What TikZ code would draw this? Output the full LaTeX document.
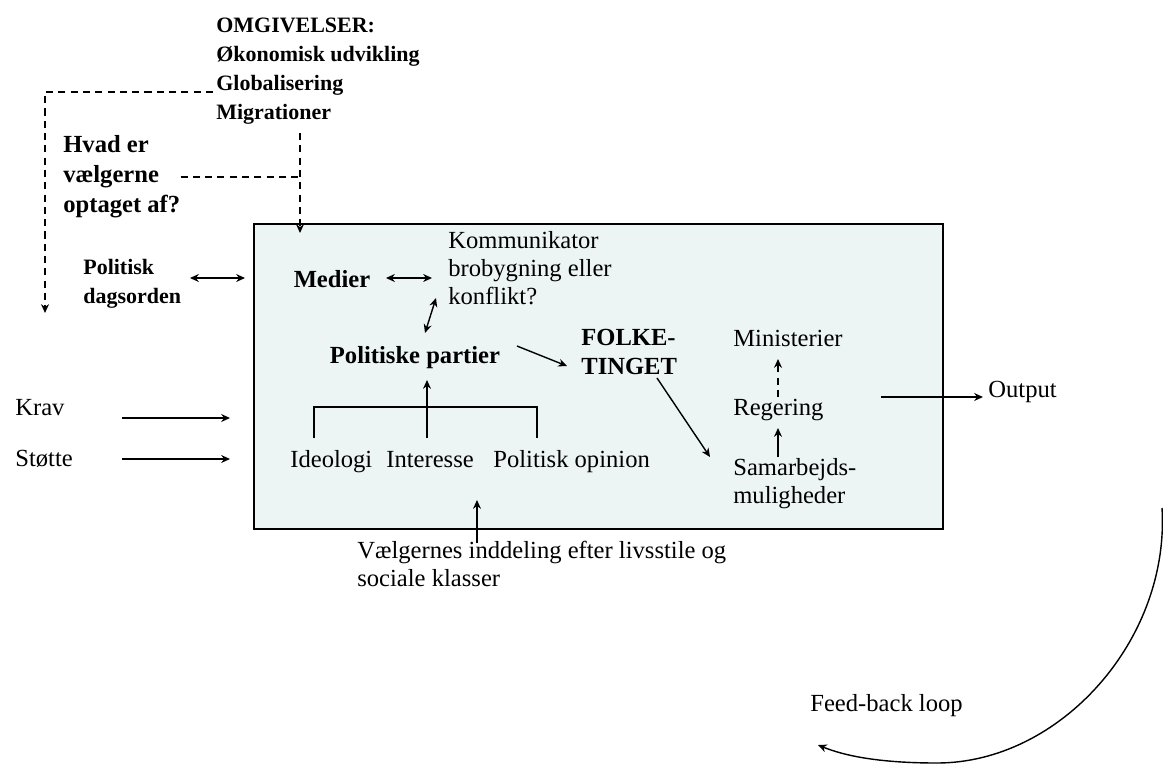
\documentclass[tikz,border=0pt]{standalone}
\usepackage{fontspec}
\setmainfont{Liberation Serif}
\usetikzlibrary{arrows.meta}
\definecolor{boxfill}{HTML}{EDF4F4}

\begin{document}
\begin{tikzpicture}[x=0.02cm,y=-0.02cm,
>={Stealth[length=5pt,width=4.5pt]},
txt/.style = {inner sep=0pt,align=left,font=\rmfamily\fontsize{14}{16}\selectfont},
bld/.style = {inner sep=0pt,align=left,font=\rmfamily\fontsize{12.5}{16.5}\selectfont\bfseries},
big/.style = {inner sep=0pt,align=left,font=\rmfamily\fontsize{14}{16.5}\selectfont\bfseries},
arr/.style = {draw,->,thick},
dbl/.style = {draw,<->,thick},
dsh/.style = {draw,thick,dash pattern=on 4pt off 3pt}
]
  \useasboundingbox (0,0) rectangle (1163,765);
  \draw[thick,fill=boxfill] (254,224) rectangle (943,529);

  \node[bld,anchor=west] (omg) at (216,71) {OMGIVELSER:\\Økonomisk udvikling\\Globalisering\\Migrationer};
  \node[bld,anchor=west,font=\rmfamily\fontsize{14}{17}\selectfont\bfseries] (hvad) at (63,177) {Hvad er\\vælgerne\\optaget af?};
  \node[bld,anchor=west] (dag) at (83,284) {Politisk\\dagsorden};
  \node[big] (medier) at (332,279) {Medier};
  \node[txt,anchor=west] (komm) at (448,268) {Kommunikator\\brobygning eller\\konflikt?};
  \node[big] (partier) at (415,358) {Politiske partier};
  \node[big,anchor=west] (ft) at (581,352) {FOLKE-\\TINGET};
  \node[txt,anchor=base west] (min) at (733,346) {Ministerier};
  \node[txt,anchor=base west] (reg) at (733,415) {Regering};
  \node[txt,anchor=west] (sam) at (733,484) {Samarbejds-\\muligheder};
  \node[txt,anchor=base west] (ideo) at (290,467) {Ideologi};
  \node[txt,anchor=base west] (int) at (386,467) {Interesse};
  \node[txt,anchor=base west] (opin) at (493,467) {Politisk opinion};
  \node[txt,anchor=base west] (krav) at (15,415) {Krav};
  \node[txt,anchor=base west] (stot) at (15,466) {Støtte};
  \node[txt,anchor=base west] (out) at (988,397) {Output};
  \node[txt,anchor=west] (vael) at (357,564) {Vælgernes inddeling efter livsstile og\\sociale klasser};
  \node[txt,anchor=base west] (fb) at (810,711) {Feed-back loop};

  \coordinate (d1) at (300,133);
  \coordinate (d2) at (300,233);
  \coordinate (d3) at (213,92);
  \coordinate (d4) at (45,92);
  \coordinate (d5) at (45,313);
  \coordinate (k1) at (122,418);
  \coordinate (k2) at (230,418);
  \coordinate (s1) at (122,459);
  \coordinate (s2) at (230,459);
  \coordinate (o1) at (881,397);
  \coordinate (o2) at (983,397);
  \coordinate (b1) at (314,438);
  \coordinate (b2) at (314,407);
  \coordinate (b3) at (537,407);
  \coordinate (b4) at (537,438);
  \coordinate (f1) at (1162,508);
  \coordinate (f2) at (937,763);
  \coordinate (f3) at (818,745);

  % omgivelser
  \path[dsh,->] (d1) -- (d2);
  \path[dsh] (hvad.east) -- (hvad.east -| d1);
  \path[dsh,->] (d3) -- (d4) -- (d5);

  % medier og partier
  \path[dbl] (190,278) -- (245,278);
  \path[dbl] (386,278) -- (432,278);
  \path[dbl] (436,298) -- (425,333);
  \path[arr] (517,346) -- (567,366);
  \path[arr] (657,378) -- (710,457);

  % vaelgerne
  \path[draw,thick] (b1) -- (b2) -- (b3) -- (b4);
  \path[arr] (427,438) -- (427,380);
  \path[arr] (477,543) -- (477,500);

  % regering
  \path[arr] (778,457) -- (778,428);
  \path[dsh,->] (778,397) -- (778,359);

  % input og output
  \path[arr] (k1) -- (k2);
  \path[arr] (s1) -- (s2);
  \path[arr] (o1) -- (o2);
  \path[arr] (f1) .. controls (1170,640) and (1060,763) .. (f2) .. controls (880,763) and (845,756) .. (f3);
\end{tikzpicture}
\end{document}
